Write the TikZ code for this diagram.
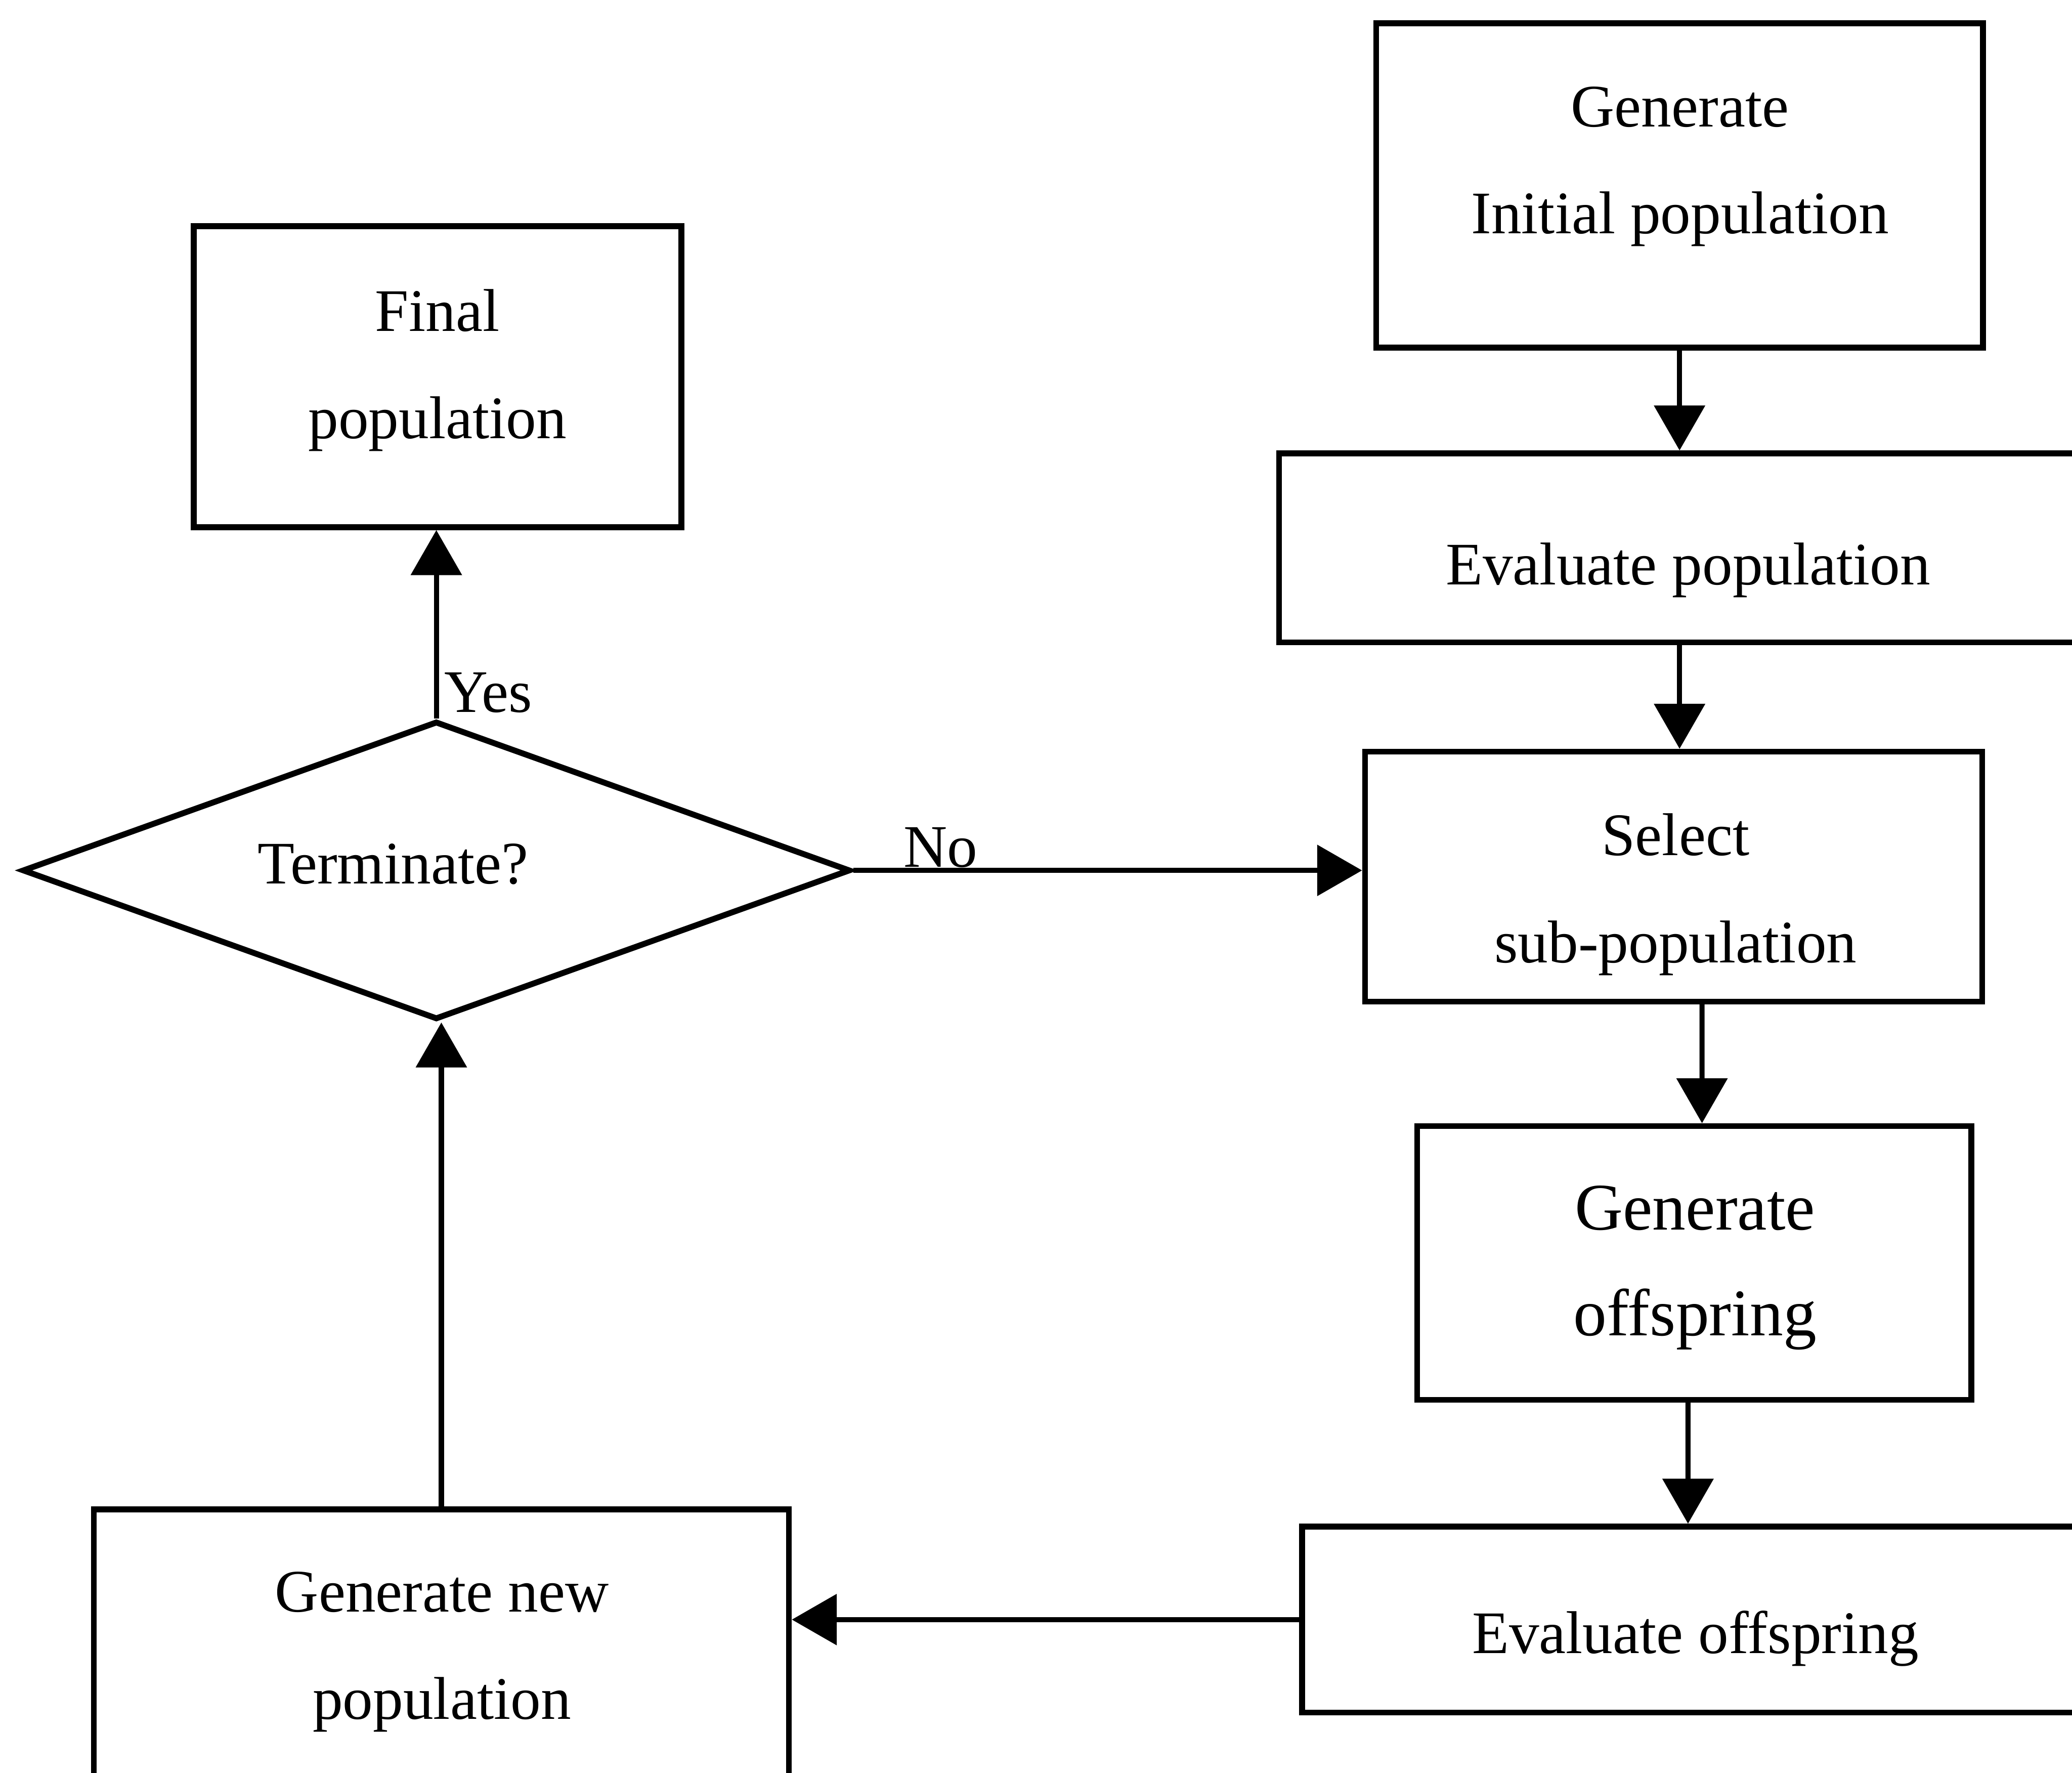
\documentclass[tikz,border=0pt]{standalone}
\usepackage{fontspec}
\setmainfont{Liberation Serif}
\usetikzlibrary{arrows.meta,shapes.geometric,calc}

\begin{document}
\begin{tikzpicture}[x=0.03cm,y=-0.03cm,
  box/.style={draw, line width=3.8pt, rectangle, inner sep=0pt},
  decbox/.style={draw, line width=3.8pt, diamond, inner sep=0pt},
  txt/.style={align=center, inner sep=0pt, font=\fontsize{39}{69.1}\selectfont},
  bigtxt/.style={align=center, inner sep=0pt, font=\fontsize{43}{68.3}\selectfont},
  lbl/.style={inner sep=0pt, font=\fontsize{39}{43}\selectfont},
  arr/.style={line width=3.3pt, -{Triangle[length=1.02cm,width=1.14cm]}}
]
\useasboundingbox (0,0) rectangle (1568,1341);
\clip (0,0) rectangle (1568,1341);
\fill[white] (0,0) rectangle (1568,1341);

% process boxes
\node[box, minimum width=13.77cm, minimum height=7.36cm] (init) at (1271,140.3) {};
\node[box, minimum width=18.57cm, minimum height=4.29cm] (evalpop) at (1277.5,414.5) {};
\node[box, minimum width=14.01cm, minimum height=5.67cm] (sel) at (1266.5,663.2) {};
\node[box, minimum width=12.58cm, minimum height=6.21cm] (off) at (1282.1,955.5) {};
\node[box, minimum width=17.86cm, minimum height=4.22cm] (evaloff) at (1283,1225.3) {};
\node[box, minimum width=11.07cm, minimum height=6.83cm] (final) at (331.2,285) {};
\node[box, minimum width=15.78cm, minimum height=7.14cm] (newpop) at (334,1261) {};
\node[decbox, minimum width=18.80cm, minimum height=6.77cm] (dec) at (330.2,658.5) {};

% box texts
\node[txt] (initT) at (1271.3,126.1) {Generate\\Initial population};
\node[txt, anchor=base] (evalpopT) at (1277.5,442.5) {Evaluate population};
\node[txt] (selT) at (1268,676.8) {Select\\sub-population};
\node[bigtxt] (offT) at (1282.7,959.3) {Generate\\offspring};
\node[txt, anchor=base] (evaloffT) at (1283,1250.7) {Evaluate offspring};
\node[txt] (finalT) at (331,280.1) {Final\\population};
\node[txt] (newT) at (334.4,1249.8) {Generate new\\population};
\node[txt, anchor=base] (decT) at (297.4,668.7) {Terminate?};

% branch labels
\node[lbl, anchor=base west] (yes) at (336,538.9) {Yes};
\node[lbl, anchor=base west] (no) at (683.7,656) {No};

% connectors
\draw[arr] (init.south) -- (init.south |- evalpop.north);
\draw[arr] (evalpop.south -| init.south) -- (sel.north -| init.south);
\draw[arr] ($(sel.south)+(21.5,0)$) -- ($(off.north)+(5.9,0)$);
\draw[arr] ($(off.south)+(-4.7,0)$) -- ($(evaloff.north)+(-5.6,0)$);
\draw[arr] (evaloff.west) -- (evaloff.west -| newpop.east);
\draw[arr] (newpop.north) -- (newpop.north |- dec.south);
\draw[arr] (dec.north) -- (dec.north |- final.south);
\draw[arr] (dec.east) -- (dec.east -| sel.west);
\end{tikzpicture}
\end{document}
